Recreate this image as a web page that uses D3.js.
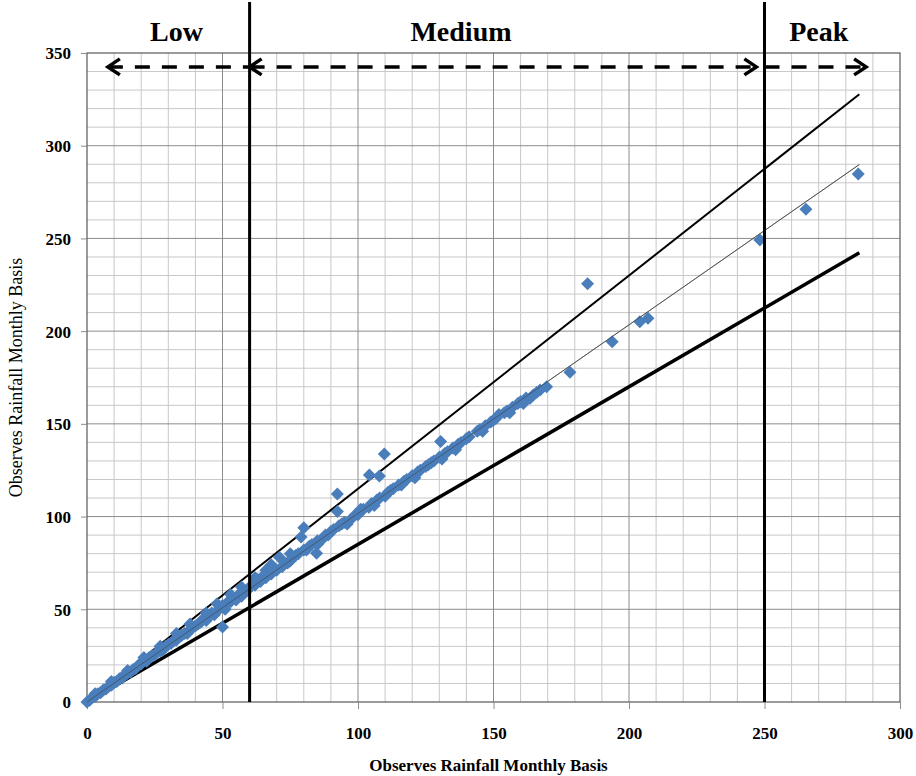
<!DOCTYPE html>
<html>
<head>
<meta charset="utf-8">
<script src="https://cdn.jsdelivr.net/npm/d3@7"></script>
<style>
  body { margin: 0; background: #fff; }
  svg { display: block; }
</style>
</head>
<body>
<div id="main"></div>
<script>
const points = [
  [0,0],[1,1],[2,2.5],[3,3],[4,4.5],[5,5],[6,6.5],[7,7],[8,8.5],[9,9],[10,10.5],[11,11],
  [12,12.5],[13,13],[14,15],[15,15.5],[16,16],[17,17.5],[18,18],[19,20],[20,20.5],[22,22],
  [23,24],[24,25],[25,25.5],[26,27],[27,27.5],[28,28],[29,30],[30,31],[31,31.5],[32,33],
  [33,33.5],[34,35],[35,36],[36,37],[37,37],[38,39],[39,40],[40,41],[41,42],[42,43],
  [43,45],[44,44],[45,46],[46,48],[47,47],[48,49],[49,51],[50,40.5],[50,52],[51,50],
  [52,54],[53,54],[54,56],[55,55],[56,58],[57,57],[58,60],[59,60],[60,62],[61,63],
  [62,63],[63,66],[64,65],[65,68],[66,67],[67,70],[68,69],[69,72],[70,71],[71,78],
  [72,73],[73,75],[74,75],[75,76],[76,78],[77,79],[78,80],[79,89],[80,94],[80,82],
  [81,82],[82,84],[83,85],[84.7,80.2],[85,87],[86,87],[87,88],[88,90],[89,90],[90,92],
  [91,93],[92.4,112.2],[92.4,102.7],[93,95],[94,96],[95,97],[97,98],[99,101],[100,101],
  [102,104],[104.2,122.4],[104,105],[105,107],[107,109],[107.9,121.9],[108,110],
  [109.7,133.8],[110,111],[112,114],[113,115],[115,117],[117,119],[118,120],[120,122],
  [122,124],[123,125],[125,127],[127,129],[128,130],[130,132],[130.5,140.5],[132,134],
  [133,135],[135,137],[137,139],[138,140],[140,142],[144,146],[145,147],[147,149],
  [149,151],[150,152],[152,155],[154,156],[155,157],[157,159],[159,161],[160,162],
  [162,164],[163.5,163.8],[164.7,165.6],[167.2,168.3],[169.6,170],[178.2,177.8],
  [184.7,225.5],[193.8,194.3],[204,205],[207,207],[248.3,249.2],[265.3,265.7],[284.6,284.8],
  // extra scatter within the band
  [3,4.5],[9,11],[15,17],[21,24],[27,30],[33,37],[38,42],[44,48],[48,53],[53,58],
  [57,62],[62,67],[66,71],[68,74],[75,80],[85,85],[96,96],[101,104],[106,106],
  [111,113],[116,117],[121,121],[126,128],[131,131],[136,136],[141,143],[146,146],
  [151,153],[156,156],[161,161],[166,167]
];

// reference lines: y = slope * x, drawn from 0 to lineEnd
const refLines = [
  {slope: 1.15, width: 2, color: "#000"},
  {slope: 1.017, width: 1, color: "#6e6e6e"},
  {slope: 0.85, width: 3.5, color: "#000"}
];
const lineEnd = 285;

// class boundaries and labels
const bounds = [60, 250];
const zones = [
  {label: "Low", center: 33, from: 7.7, to: 59.5, head: "left"},
  {label: "Medium", center: 138, from: 60, to: 247, head: "both"},
  {label: "Peak", center: 270, from: 250, to: 287.5, head: "right"}
];
const arrowY = 342.5;

const xTicks = [0, 50, 100, 150, 200, 250, 300];
const yTicks = [0, 50, 100, 150, 200, 250, 300, 350];
const axisTitle = "Observes Rainfall Monthly Basis";

const W = 916, H = 776;
const margin = {left: 87, right: 16, top: 53, bottom: 74};
const x = d3.scaleLinear().domain([0, 300]).range([margin.left, W - margin.right]);
const y = d3.scaleLinear().domain([0, 350]).range([H - margin.bottom, margin.top]);

const svg = d3.select("#main").append("svg")
    .attr("width", W)
    .attr("height", H);

const serif = "'Liberation Serif', 'Times New Roman', serif";

// minor grid every 10
const grid = svg.append("g");
grid.selectAll("line.vx")
    .data(d3.range(10, 300, 10).filter(v => v % 50))
    .join("line")
    .attr("x1", d => x(d)).attr("x2", d => x(d))
    .attr("y1", y(0)).attr("y2", y(350))
    .attr("stroke", "#c8c8c8").attr("stroke-width", 1);
grid.selectAll("line.hy")
    .data(d3.range(10, 350, 10).filter(v => v % 50))
    .join("line")
    .attr("x1", x(0)).attr("x2", x(300))
    .attr("y1", d => y(d)).attr("y2", d => y(d))
    .attr("stroke", "#c8c8c8").attr("stroke-width", 1);

// major grid every 50
grid.append("g").selectAll("line")
    .data(xTicks.slice(1, -1))
    .join("line")
    .attr("x1", d => x(d)).attr("x2", d => x(d))
    .attr("y1", y(0)).attr("y2", y(350))
    .attr("stroke", "#8c8c8c").attr("stroke-width", 1);
grid.append("g").selectAll("line")
    .data(yTicks.slice(1, -1))
    .join("line")
    .attr("x1", x(0)).attr("x2", x(300))
    .attr("y1", d => y(d)).attr("y2", d => y(d))
    .attr("stroke", "#8c8c8c").attr("stroke-width", 1);

// plot frame
svg.append("rect")
    .attr("x", x(0)).attr("y", y(350))
    .attr("width", x(300) - x(0)).attr("height", y(0) - y(350))
    .attr("fill", "none").attr("stroke", "#595959").attr("stroke-width", 1.2);

// axes
const xAxis = svg.append("g")
    .attr("transform", `translate(0,${y(0)})`)
    .call(d3.axisBottom(x).tickValues(xTicks).tickSize(7).tickPadding(18).tickFormat(d3.format("d")));
const yAxis = svg.append("g")
    .attr("transform", `translate(${x(0)},0)`)
    .call(d3.axisLeft(y).tickValues(yTicks).tickSize(6).tickPadding(10).tickFormat(d3.format("d")));
[xAxis, yAxis].forEach(a => {
    a.select(".domain").remove();
    a.selectAll(".tick line").attr("stroke", "#8c8c8c");
    a.selectAll("text")
        .attr("font-family", serif)
        .attr("font-weight", "bold")
        .attr("font-size", 17)
        .attr("fill", "#000");
});
yAxis.selectAll("text").attr("dy", "0.35em");

// reference lines
const line = d3.line().x(d => x(d[0])).y(d => y(d[1]));
svg.append("g").selectAll("path")
    .data(refLines)
    .join("path")
    .attr("d", d => line([[0, 0], [lineEnd, d.slope * lineEnd]]))
    .attr("fill", "none")
    .attr("stroke", d => d.color)
    .attr("stroke-width", d => d.width);

// scatter diamonds
svg.append("g").selectAll("path")
    .data(points)
    .join("path")
    .attr("transform", d => `translate(${x(d[0])},${y(d[1])})`)
    .attr("d", "M0,-6.5L6.5,0L0,6.5L-6.5,0Z")
    .attr("fill", "#4a7ebb");

// thin trend line drawn again on top so it shows through the band
svg.append("path")
    .attr("d", line([[0, 0], [lineEnd, refLines[1].slope * lineEnd]]))
    .attr("fill", "none")
    .attr("stroke", "#3a3a3a")
    .attr("stroke-width", 0.8)
    .attr("opacity", 0.7);

// class boundaries
svg.append("g").selectAll("line")
    .data(bounds)
    .join("line")
    .attr("x1", d => x(d)).attr("x2", d => x(d))
    .attr("y1", 2).attr("y2", y(0))
    .attr("stroke", "#000").attr("stroke-width", 3);

// dashed arrows
const arrows = svg.append("g");
arrows.selectAll("line")
    .data(zones)
    .join("line")
    .attr("x1", d => x(d.from)).attr("x2", d => x(d.to))
    .attr("y1", y(arrowY)).attr("y2", y(arrowY))
    .attr("stroke", "#000").attr("stroke-width", 3.5)
    .attr("stroke-dasharray", "15 12");
const head = (px, dir) => `M${px + dir * 12},${y(arrowY) - 8}L${px},${y(arrowY)}L${px + dir * 12},${y(arrowY) + 8}`;
zones.forEach(z => {
    const heads = [];
    if (z.head === "left" || z.head === "both") heads.push(head(x(z.from), 1));
    if (z.head === "right" || z.head === "both") heads.push(head(x(z.to), -1));
    arrows.selectAll(null)
        .data(heads)
        .join("path")
        .attr("d", d => d)
        .attr("fill", "none")
        .attr("stroke", "#000").attr("stroke-width", 3.5)
        .attr("stroke-linejoin", "miter");
});

// zone labels
svg.append("g").selectAll("text")
    .data(zones)
    .join("text")
    .attr("x", d => x(d.center))
    .attr("y", 41)
    .attr("text-anchor", "middle")
    .attr("font-family", serif)
    .attr("font-weight", "bold")
    .attr("font-size", 28)
    .text(d => d.label);

// axis titles
svg.append("text")
    .attr("x", (x(0) + x(300)) / 2 - 5)
    .attr("y", 771)
    .attr("text-anchor", "middle")
    .attr("font-family", serif)
    .attr("font-weight", "bold")
    .attr("font-size", 17)
    .text(axisTitle);
svg.append("text")
    .attr("transform", `translate(22,${(y(0) + y(350)) / 2}) rotate(-90)`)
    .attr("text-anchor", "middle")
    .attr("font-family", serif)
    .attr("font-size", 18)
    .text(axisTitle);
</script>
</body>
</html>
